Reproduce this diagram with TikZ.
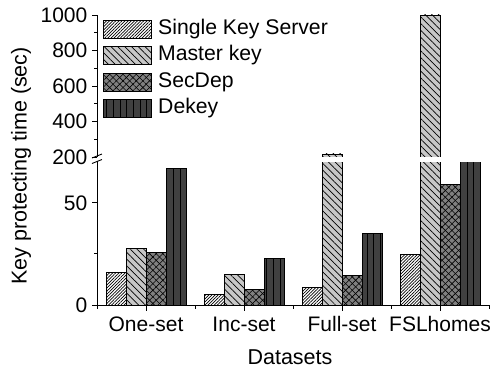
\documentclass[tikz,border=0pt]{standalone}
\usepackage{fontspec}
\setmainfont{Liberation Sans}
\usetikzlibrary{patterns.meta}

\begin{document}
\begin{tikzpicture}[x=1pt,y=-1pt,
  % value -> vertical position, lower (0..70) and upper (200..1000) segments
  declare function={lo(\v)=305-2.043*\v; up(\v)=157-(\v-200)*0.1775;},
  bar/.style={draw=black,line width=0.7pt},
  barS/.style={bar,fill=white,postaction={pattern={Lines[angle=45,distance=2.2pt,line width=0.7pt]},pattern color=black}},
  barM/.style={bar,fill=black!22,postaction={pattern={Lines[angle=-45,distance=4.8pt,line width=0.7pt]},pattern color=black}},
  barC/.style={bar,fill=black!50,postaction={pattern={Lines[angle=45,distance=4.7pt,line width=0.6pt]},pattern color=black},
               postaction={pattern={Lines[angle=-45,distance=4.7pt,line width=0.6pt]},pattern color=black}},
  barD/.style={bar,fill=black!75,postaction={pattern={Lines[angle=90,distance=6.67pt,line width=0.7pt]},pattern color=black}},
  axisline/.style={draw=black,line width=0.9pt},
  ticklab/.style={font=\fontsize{21}{22}\selectfont,inner sep=0pt},
  leglab/.style={font=\fontsize{21.2}{23}\selectfont,inner sep=0pt,anchor=west},
  titlelab/.style={font=\fontsize{21.5}{23}\selectfont,inner sep=0pt}]
\useasboundingbox (0,0) rectangle (492,370);

% bars: group centre / Single Key Server / Master key / SecDep / Dekey
\foreach \g/\s/\m/\k/\d in {146/{lo(16)}/{lo(27.7)}/{lo(25.7)}/{lo(67)},
                            244/{lo(5.3)}/{lo(15)}/{lo(7.8)}/{lo(22.8)},
                            342/{lo(8.7)}/{up(217)}/{lo(14.6)}/{lo(35)},
                            440/{lo(24.8)}/{up(1000)}/{lo(59.2)}/{157}}{
  \draw[barS] ({\g-40},305) rectangle ({\g-20},{\s});
  \draw[barM] ({\g-20},305) rectangle ({\g},{\m});
  \draw[barC] ({\g},305) rectangle ({\g+20},{\k});
  \draw[barD] ({\g+20},305) rectangle ({\g+40},{\d});
}

% axis break band
\fill[white] (98,157) rectangle (490,162);

% y axis in two segments with break marks
\draw[axisline] (97,305) -- (97,160.5);
\draw[axisline] (97,157) -- (97,15);
\draw[black,line width=0.9pt] (92,158) -- (102,154);
\draw[black,line width=0.9pt] (92,163.5) -- (102,159.5);

% x axis
\draw[axisline] (96.5,305) -- (489,305);
\foreach \t in {97,195,293,391,489} \draw[axisline] (\t,305) -- (\t,308.5);
\foreach \t in {146,244,342,440} \draw[axisline] (\t,305) -- (\t,311);

% y ticks
\foreach \v in {0,50} \draw[axisline] (97,{lo(\v)}) -- (91.5,{lo(\v)});
\draw[axisline] (97,{lo(25)}) -- (94,{lo(25)});
\foreach \v in {200,400,600,800,1000} \draw[axisline] (97,{up(\v)}) -- (91.5,{up(\v)});
\foreach \v in {300,500,700,900} \draw[axisline] (97,{up(\v)}) -- (94,{up(\v)});

% y tick labels
\node[ticklab,anchor=east] (y0) at (87.5,{lo(0)}) {0};
\node[ticklab,anchor=east] (y50) at (87.5,{lo(50)}) {50};
\foreach \v in {200,400,600,800,1000}
  \node[ticklab,anchor=east] (y\v) at (87.5,{up(\v)}) {\v};

% x tick labels
\node[ticklab] (xone) at (146,324) {One-set};
\node[ticklab] (xinc) at (244,324) {Inc-set};
\node[ticklab] (xfull) at (342,324) {Full-set};
\node[ticklab] (xfsl) at (440,324) {FSLhomes};

% axis titles
\node[titlelab] (xtitle) at (290,357) {Datasets};
\node[titlelab,rotate=90] (ytitle) at (21,166) {Key protecting time (sec)};

% legend
\draw[barS] (103,20) rectangle (151,38);
\node[leglab] (lS) at (158,29) {Single Key Server};
\draw[barM] (103,46) rectangle (151,64);
\node[leglab] (lM) at (158,55) {Master key};
\draw[barC] (103,73) rectangle (151,91);
\node[leglab] (lC) at (158,82) {SecDep};
\draw[barD] (103,99) rectangle (151,117);
\node[leglab] (lD) at (158,108) {Dekey};
\end{tikzpicture}
\end{document}
